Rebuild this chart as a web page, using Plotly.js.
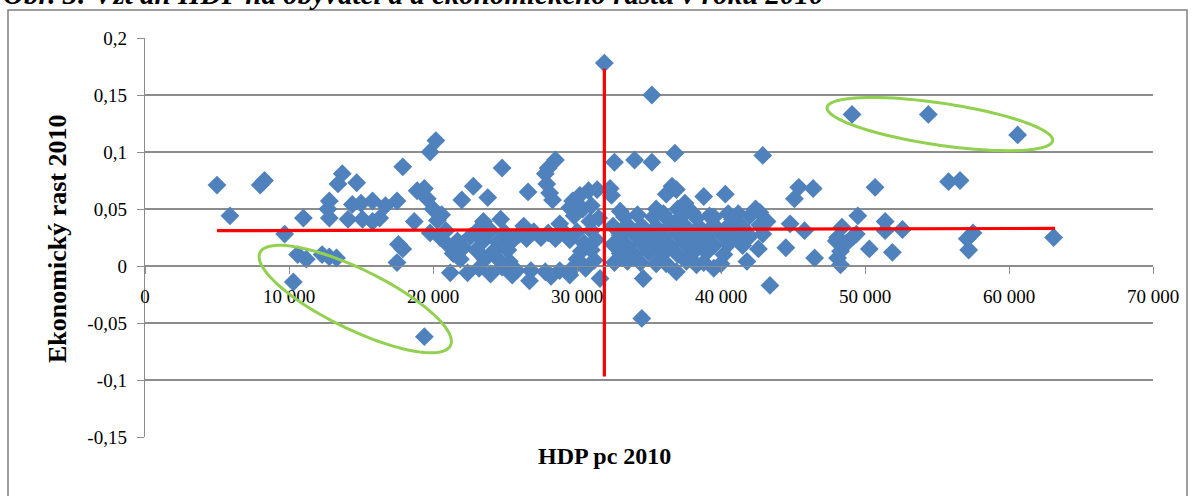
<!DOCTYPE html>
<html><head><meta charset="utf-8">
<script src="https://cdn.plot.ly/plotly-3.0.1.min.js"></script>
<style>html,body{margin:0;padding:0;background:#fff;} #chart{width:1192px;height:496px;}</style>
</head><body><div id="chart"></div>
<script>
// HDP na obyvateľa 2010 (x) a ekonomický rast 2010 (y)
const hdp2010 = [
 5000,5900,8000,8300,9700,10300,10600,11000,11200,12300,12800,13300,12800,12700,12800,13700,13400,14700,14400,15000,
 14100,15100,15800,15800,16300,16700,17500,17900,17600,17900,17500,18700,18900,19400,19400,
 19800,20200,19600,20000,20300,19800,20500,21000,21700,22100,21200,22400,20900,21400,22800,22000,22600,21900,20600,
 24800,23800,26600,28500,28000,27800,27900,28100,28300,29700,30200,30800,31400,29500,30400,31000,31500,30900,23500,24700,26300,28800,29800,
 23000,24000,25000,26000,27000,28000,29000,30000,31000,
 23500,24500,25500,26500,27500,28500,29500,30500,31300,
 23000,24200,25200,30300,31000,
 23600,24600,25300,30000,31200,
 23200,24800,25800,26800,27800,28800,29600,30600,
 24000,25500,26700,28200,29500,31600,
 31900,35200,32600,34000,35200,36800,42900,32300,32400,36600,36200,36900,38800,40300,42400,43200,
 37500,36000,37000,38000,39200,40500,41200,42000,42700,34200,33000,35500,42700,
 34600,34500,36900,43400,39500,40000,38300,35500,33500,41800,42600,42900,44500,
 32500,33500,34500,35500,36500,37500,38500,39500,40500,41500,
 33000,34000,35000,36000,37000,38000,39000,40000,41000,42000,
 32500,33500,34500,35500,36500,37500,38500,39500,40500,41500,
 33000,34000,35000,36000,37000,38000,39000,40200,
 32600,34400,36200,37600,38800,
 33300,35300,36300,37200,38300,39500,40800,
 45400,46400,45100,44800,45800,46500,49500,48400,48100,49200,48300,48100,48300,48700,48000,49400,
 50300,51400,51400,51900,52600,50700,55800,56600,49100,54400,60600,57500,57100,57200,63100
];
const rast2010 = [
 0.071,0.044,0.071,0.075,0.028,-0.014,0.010,0.042,0.006,0.010,0.008,0.007,0.057,0.050,0.042,0.081,0.072,0.073,0.054,0.055,
 0.041,0.041,0.057,0.039,0.042,0.053,0.057,0.087,0.019,0.015,0.003,0.039,0.066,0.068,-0.062,
 0.100,0.110,0.059,0.050,0.040,0.029,0.025,0.019,0.022,0.016,-0.006,-0.006,0.031,0.011,0.070,0.058,0.026,0.006,0.045,
 0.086,0.060,0.065,0.093,0.086,0.081,0.072,0.064,0.058,0.057,0.062,0.066,0.067,0.051,0.050,0.053,0.042,0.039,0.039,0.041,0.035,0.037,0.044,
 0.030,0.031,0.029,0.028,0.030,0.029,0.031,0.030,0.031,
 0.022,0.021,0.022,0.024,0.025,0.024,0.023,0.020,0.023,
 0.014,0.013,0.014,0.013,0.014,
 0.006,0.005,0.004,0.006,0.005,
 -0.002,-0.001,-0.004,-0.004,-0.005,-0.004,-0.003,-0.002,
 -0.007,-0.008,-0.013,-0.009,-0.008,-0.011,
 0.178,0.150,0.091,0.093,0.091,0.099,0.097,0.068,0.062,0.070,0.063,0.067,0.061,0.063,0.050,0.039,
 0.055,0.046,0.050,0.047,0.044,0.046,0.046,0.044,0.047,0.045,0.048,0.050,0.036,
 -0.011,-0.046,-0.005,-0.017,-0.002,0.002,0.001,0.002,0.004,0.004,0.015,0.028,0.016,
 0.035,0.036,0.035,0.034,0.036,0.035,0.034,0.036,0.035,0.034,
 0.027,0.028,0.027,0.026,0.028,0.027,0.026,0.028,0.027,0.026,
 0.019,0.018,0.020,0.019,0.018,0.020,0.019,0.018,0.019,0.018,
 0.011,0.010,0.012,0.011,0.010,0.011,0.012,0.010,
 0.003,0.003,0.002,0.004,0.003,
 0.043,0.043,0.041,0.043,0.042,0.043,0.041,
 0.069,0.068,0.059,0.037,0.031,0.007,0.044,0.034,0.025,0.026,0.013,0.007,0.001,0.020,0.022,0.028,
 0.015,0.039,0.031,0.012,0.032,0.069,0.074,0.075,0.133,0.133,0.115,0.029,0.024,0.014,0.025
];
const xTickVals = [0,10000,20000,30000,40000,50000,60000,70000];
const xTickText = ['0','10 000','20 000','30 000','40 000','50 000','60 000','70 000'];
const yTickVals = [-0.15,-0.1,-0.05,0,0.05,0.1,0.15,0.2];
const yTickText = ['-0,15','-0,1','-0,05','0','0,05','0,1','0,15','0,2'];
// red reference lines
const rastLineX = [5000,63200];
const rastLineY = [0.031,0.033];
const hdpLineX = [31900,31900];
const hdpLineY = [-0.097,0.173];
// green highlight ellipses (centre in data units)
const ellipseCX = [14600,55200];
const ellipseCY = [-0.029,0.1245];

const W=1192,H=496,L=145,R=39,T=38,B=59;
const pw=W-L-R, ph=H-T-B;
const pxPerX = pw/70000, pxPerY = ph/0.35;
function ellipsePath(cx,cy,a,b,deg){
  const th=deg*Math.PI/180; let d='';
  for(let i=0;i<=90;i++){
    const t=i/90*2*Math.PI;
    const dx=a*Math.cos(th)*Math.cos(t)-b*Math.sin(th)*Math.sin(t);
    const dy=a*Math.sin(th)*Math.cos(t)+b*Math.cos(th)*Math.sin(t);
    d+=(i?'L':'M')+(cx+dx/pxPerX).toFixed(2)+','+(cy-dy/pxPerY).toFixed(6);
  }
  return d+'Z';
}
const px2paperX = p => (p-L)/pw;
const px2paperY = p => (H-B-p)/ph;

const traces = [
 {type:'scatter',mode:'markers',x:hdp2010,y:rast2010,
  marker:{symbol:'diamond',size:14.5,color:'#4F81BD',line:{width:0}},hoverinfo:'x+y'},
 {type:'scatter',mode:'lines',x:rastLineX,y:rastLineY,line:{color:'#FF0000',width:3.2}},
 {type:'scatter',mode:'lines',x:hdpLineX,y:hdpLineY,line:{color:'#FF0000',width:3.2}}
];
const serif='Liberation Serif, Times New Roman, serif';
const layout = {
 width:W,height:H,margin:{l:L,r:R,t:T,b:B},
 paper_bgcolor:'#fff',plot_bgcolor:'#fff',showlegend:false,
 font:{family:serif,color:'#000'},
 xaxis:{range:[0,70000],tickvals:xTickVals,ticktext:xTickText,anchor:'free',position:0.15/0.35,
   showline:true,linecolor:'#8c8c8c',linewidth:1.3,ticks:'outside',ticklen:7,tickcolor:'#8c8c8c',
   showgrid:false,zeroline:false,tickfont:{family:serif,size:19,color:'#000'},ticklabelstandoff:6},
 yaxis:{range:[-0.15,0.2],tickvals:yTickVals,ticktext:yTickText,
   showline:true,linecolor:'#8c8c8c',linewidth:1.3,ticks:'outside',ticklen:7,tickcolor:'#8c8c8c',
   showgrid:true,gridcolor:'#8c8c8c',gridwidth:1.1,zeroline:false,
   tickfont:{family:serif,size:19,color:'#000'},ticklabelstandoff:6},
 shapes:[
  {type:'rect',xref:'paper',yref:'paper',x0:px2paperX(8),x1:px2paperX(1187),y0:px2paperY(520),y1:px2paperY(10),
   line:{color:'#7f7f7f',width:1.5},layer:'below'},
  {type:'path',xref:'x',yref:'y',path:ellipsePath(ellipseCX[0],ellipseCY[0],106,30,26),line:{color:'#92D050',width:3}},
  {type:'path',xref:'x',yref:'y',path:ellipsePath(ellipseCX[1],ellipseCY[1],114,21,8.4),line:{color:'#92D050',width:3}}
 ],
 annotations:[
  {text:'Obr. 3: Vzťah HDP na obyvateľa a ekonomického rastu v roku 2010',xref:'paper',yref:'paper',
   x:px2paperX(1),y:px2paperY(12),xanchor:'left',yanchor:'bottom',showarrow:false,
   font:{family:serif,size:29,color:'#000',weight:'bold',style:'italic'}},
  {text:'<b>Ekonomický rast 2010</b>',xref:'paper',yref:'paper',x:px2paperX(57),y:px2paperY(239),
   xanchor:'center',yanchor:'middle',textangle:-90,showarrow:false,font:{family:serif,size:26,color:'#000'}},
  {text:'<b>HDP pc 2010</b>',xref:'paper',yref:'paper',x:px2paperX(604),y:px2paperY(456),
   xanchor:'center',yanchor:'middle',showarrow:false,font:{family:serif,size:24,color:'#000'}}
 ]
};
Plotly.newPlot('chart',traces,layout,{displayModeBar:false,staticPlot:true});
</script></body></html>
